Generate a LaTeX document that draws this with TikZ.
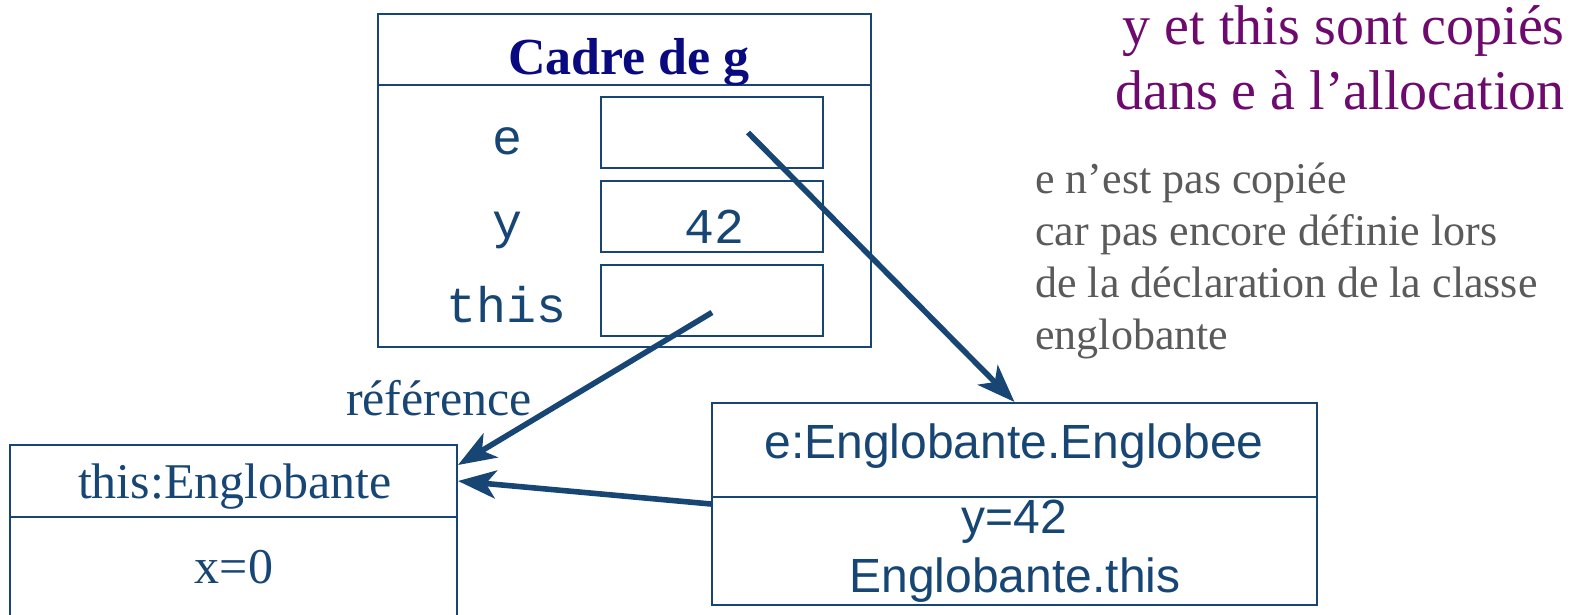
\documentclass[tikz,border=0pt]{standalone}
\usepackage{fontspec}
\setmainfont{Liberation Serif}
\setsansfont{Liberation Sans}
\setmonofont{Liberation Mono}
\usetikzlibrary{arrows.meta}

\definecolor{boxblue}{RGB}{23,70,117}
\definecolor{titlenavy}{RGB}{10,10,128}
\definecolor{notepurple}{RGB}{110,10,110}
\definecolor{notegray}{RGB}{90,90,90}

\tikzset{
	frame/.style={draw=boxblue, line width=1pt, inner sep=0pt},
	slot/.style={frame, minimum width=111pt, minimum height=35.5pt},
	varname/.style={text=boxblue, font=\ttfamily\fontsize{25}{25}\selectfont, anchor=base, inner sep=0pt},
	serifname/.style={text=boxblue, font=\fontsize{25}{25}\selectfont, anchor=base, inner sep=0pt},
	sansname/.style={text=boxblue, font=\sffamily\fontsize{24}{24}\selectfont, anchor=base, inner sep=0pt},
	ref/.style={draw=boxblue, line width=2.8pt, -{Stealth[length=19pt, width=14pt, inset=5pt]}},
}

\begin{document}
\begin{tikzpicture}[x=0.5pt, y=-0.5pt]
		\useasboundingbox (0,0) rectangle (1576,615);
		
		% frame of g
		\node[frame, minimum width=246.5pt, minimum height=35.5pt] (cadretitle) at (624.5,49.5) {};
		\node[frame, minimum width=246.5pt, minimum height=131pt] (cadrebody) at (624.5,216) {};
		\node[anchor=base, inner sep=0pt, text=titlenavy, font=\bfseries\fontsize{26}{26}\selectfont] (cadrelabel) at (629,75) {Cadre de g};
		
		\node[varname] (ename) at (507,155) {e};
		\node[varname] (yname) at (507,239) {y};
		\node[varname] (thisname) at (507,322) {this};
		
		\node[slot] (eslot) at (712,132.5) {};
		\node[slot] (yslot) at (712,216.5) {};
		\node[slot] (thisslot) at (712,300.5) {};
		\node[varname] (yval) at (715,243) {42};
		
		% object this:Englobante
		\node[frame, minimum width=223.5pt, minimum height=36pt] (thistitle) at (233.5,481) {};
		\node[frame, minimum width=223.5pt, minimum height=51pt] (thisbody) at (233.5,568) {};
		\node[serifname] (thislabel) at (235,498) {this:Englobante};
		\node[serifname] (xval) at (234,583) {x=0};
		
		% object e:Englobante.Englobee
		\node[frame, minimum width=302.5pt, minimum height=47pt] (etitle) at (1014.5,450) {};
		\node[frame, minimum width=302.5pt, minimum height=54pt] (ebody) at (1014.5,551) {};
		\node[sansname] (elabel) at (1014,458) {e:Englobante.Englobee};
		\node[sansname] (eyval) at (1014,533) {y=42};
		\node[sansname] (ethisval) at (1015,592) {Englobante.this};
		
		% notes
		\node[serifname] (reflabel) at (439,415) {référence};
		\node[anchor=north east, inner sep=0pt, align=right, text=notepurple, font=\fontsize{28}{32.5}\selectfont] (copynote) at (1565,5) {y et this sont copiés\\dans e à l’allocation};
		\node[anchor=north west, inner sep=0pt, align=left, text=notegray, font=\fontsize{22}{26}\selectfont] (enote) at (1035,163) {e n’est pas copiée\\car pas encore définie lors\\de la déclaration de la classe\\englobante};
		
		%========================================================================
		% Arrows
		\coordinate (estart) at ([xshift=18pt]eslot.center);
		\coordinate (thisstart) at ([yshift=-6pt]thisslot.center);
		\draw[ref] (estart) to (etitle.north);
		\draw[ref] (thisstart) to ([yshift=8pt]thistitle.east);
		\draw[ref] ([yshift=-4pt]ebody.north west) to (thistitle.east);
\end{tikzpicture}
\end{document}
